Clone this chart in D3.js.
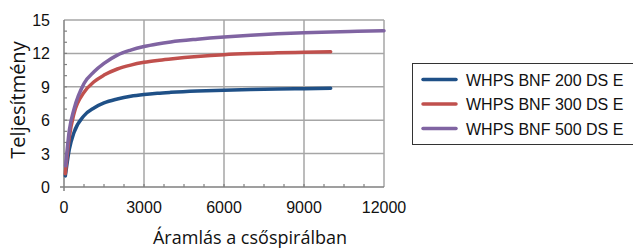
<!DOCTYPE html>
<html>
<head>
<meta charset="utf-8">
<script src="https://cdn.jsdelivr.net/npm/d3@7"></script>
<style>
  body { margin: 0; background: #fff; }
  svg { display: block; }
  .tick-label { font-family: "Liberation Sans", Arial, sans-serif; font-size: 16px; fill: #111; }
  .axis-title { font-family: "Open Sans", sans-serif; font-size: 18px; fill: #111; }
  .legend-text { font-family: "Liberation Sans", Arial, sans-serif; font-size: 16px; fill: #111; }
</style>
</head>
<body>
<svg id="chart" width="633" height="249"></svg>
<script>
// series names
const seriesNames = ["WHPS BNF 200 DS E", "WHPS BNF 300 DS E", "WHPS BNF 500 DS E"];
const seriesColors = ["#1f5087", "#c0504d", "#8064a2"];

// flow values (x) for each series
const flow200 = [50, 200, 375, 750, 1125, 1500, 2000, 2500, 3000, 3500, 4000, 5000, 6000, 7000, 8000, 9000, 10000];
const flow300 = [50, 200, 375, 750, 1125, 1500, 2000, 2500, 3000, 3500, 4000, 5000, 6000, 7000, 8000, 9000, 10000];
const flow500 = [60, 200, 375, 750, 1125, 1500, 2000, 2500, 3000, 3500, 4000, 5000, 6000, 7000, 8000, 9000, 10000, 11000, 12000];

// performance values (y)
const perf200 = [1.0, 3.4, 4.9, 6.4, 7.1, 7.55, 7.9, 8.15, 8.31, 8.42, 8.5, 8.62, 8.7, 8.75, 8.8, 8.83, 8.86];
const perf300 = [1.2, 4.5, 6.6, 8.5, 9.45, 10.05, 10.6, 10.95, 11.2, 11.37, 11.5, 11.72, 11.88, 11.98, 12.05, 12.1, 12.15];
const perf500 = [1.9, 5.1, 7.0, 9.3, 10.35, 11.1, 11.85, 12.3, 12.62, 12.85, 13.03, 13.28, 13.48, 13.64, 13.76, 13.85, 13.92, 13.98, 14.03];

const xTicks = [0, 3000, 6000, 9000, 12000];
const yTicks = [0, 3, 6, 9, 12, 15];

const svg = d3.select("#chart");
const plotLeft = 64, plotRight = 384, plotTop = 20, plotBottom = 187;

let x = d3.scaleLinear().domain([0, 12000]).range([plotLeft, plotRight]);
let y = d3.scaleLinear().domain([0, 15]).range([plotBottom, plotTop]);

// gridlines
svg.append("g").selectAll("line")
    .data(yTicks.slice(1))
    .enter().append("line")
    .attr("x1", plotLeft).attr("x2", plotRight)
    .attr("y1", d => y(d)).attr("y2", d => y(d))
    .attr("stroke", "#a6a6a6").attr("stroke-width", 1.5);
svg.append("g").selectAll("line")
    .data(xTicks.slice(1))
    .enter().append("line")
    .attr("y1", plotTop).attr("y2", plotBottom)
    .attr("x1", d => x(d)).attr("x2", d => x(d))
    .attr("stroke", "#a6a6a6").attr("stroke-width", 1.5);

// minor ticks
svg.append("g").selectAll("line")
    .data(d3.range(1, 15))
    .enter().append("line")
    .attr("x1", plotLeft).attr("x2", plotLeft + 3)
    .attr("y1", d => y(d)).attr("y2", d => y(d))
    .attr("stroke", "#808080").attr("stroke-width", 1.2);
svg.append("g").selectAll("line")
    .data(d3.range(750, 12000, 750))
    .enter().append("line")
    .attr("y1", plotBottom).attr("y2", plotBottom - 3)
    .attr("x1", d => x(d)).attr("x2", d => x(d))
    .attr("stroke", "#808080").attr("stroke-width", 1.2);

// axes lines
svg.append("line")
    .attr("x1", plotLeft - 4).attr("x2", plotRight)
    .attr("y1", plotBottom).attr("y2", plotBottom)
    .attr("stroke", "#7f7f7f").attr("stroke-width", 1.5);
svg.append("line")
    .attr("x1", plotLeft).attr("x2", plotLeft)
    .attr("y1", plotTop).attr("y2", plotBottom + 4)
    .attr("stroke", "#7f7f7f").attr("stroke-width", 1.5);

// tick labels
svg.append("g").selectAll("text")
    .data(yTicks)
    .enter().append("text")
    .attr("class", "tick-label")
    .attr("x", plotLeft - 14)
    .attr("y", d => y(d) + 6)
    .attr("text-anchor", "end")
    .text(d => d);
svg.append("g").selectAll("text")
    .data(xTicks)
    .enter().append("text")
    .attr("class", "tick-label")
    .attr("x", d => x(d))
    .attr("y", 213)
    .attr("text-anchor", "middle")
    .text(d => d);

// axis titles
svg.append("text")
    .attr("class", "axis-title")
    .style("font-size", "20px")
    .attr("transform", `translate(25, 100) rotate(-90)`)
    .attr("text-anchor", "middle")
    .text("Teljesítmény");
svg.append("text")
    .attr("class", "axis-title")
    .attr("x", 250)
    .attr("y", 243.5)
    .attr("text-anchor", "middle")
    .text("Áramlás a csőspirálban");

// lines
let line = d3.line()
    .x(d => x(d[0]))
    .y(d => y(d[1]))
    .curve(d3.curveMonotoneX);

let allSeries = [
    d3.zip(flow200, perf200),
    d3.zip(flow300, perf300),
    d3.zip(flow500, perf500)
];

svg.append("g").selectAll("path")
    .data(allSeries)
    .enter().append("path")
    .attr("d", line)
    .attr("fill", "none")
    .attr("stroke", (d, i) => seriesColors[i])
    .attr("stroke-width", 3.5)
    .attr("stroke-linecap", "round");

// legend
let legend = svg.append("g");
legend.append("rect")
    .attr("x", 412.5).attr("y", 63.5)
    .attr("width", 230).attr("height", 81)
    .attr("fill", "#fff")
    .attr("stroke", "#333").attr("stroke-width", 1);

let items = legend.selectAll("g.item")
    .data(seriesNames)
    .enter().append("g")
    .attr("class", "item")
    .attr("transform", (d, i) => `translate(0, ${79.5 + i * 24.5})`);
items.append("line")
    .attr("x1", 423).attr("x2", 456)
    .attr("y1", 0).attr("y2", 0)
    .attr("stroke", (d, i) => seriesColors[i])
    .attr("stroke-width", 3.5)
    .attr("stroke-linecap", "round");
items.append("text")
    .attr("class", "legend-text")
    .attr("x", 466)
    .attr("y", 6)
    .text(d => d);
</script>
</body>
</html>
